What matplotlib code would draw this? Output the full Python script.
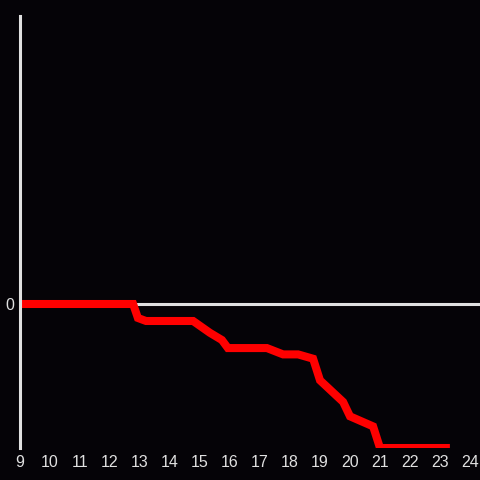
import matplotlib
matplotlib.use('Agg')
import matplotlib.pyplot as plt

# ore del giorno e valore cumulato
ore = [9.0, 12.77, 12.93, 13.2, 14.77, 15.33, 15.73, 15.93, 17.23, 17.77,
       18.27, 18.77, 19.0, 19.77, 20.0, 20.77, 21.0, 23.33]
valori = [0, 0, -9.7, -11.8, -11.8, -20, -25, -30.6, -30.6, -35,
          -35, -38, -53, -68, -78, -85, -100, -100]
tick_ore = list(range(9, 25))

sfondo = '#050307'
grigio = '#e0e0e0'
plt.rcParams['font.family'] = ['Liberation Sans', 'DejaVu Sans']

fig = plt.figure(figsize=(4.8, 4.8), dpi=100, facecolor=sfondo)
ax = fig.add_axes([20/480, 32/480, 460/480, 432/480], facecolor=sfondo)

ax.axhline(0, color=grigio, lw=2.2, zorder=1)
ax.plot(ore, valori, color='#ff0000', lw=5.8, solid_joinstyle='miter',
        solid_capstyle='butt', zorder=2)

ax.set_xlim(9, 9 + 460/30)
ax.set_ylim(-100, 200)
ax.set_xticks(tick_ore)
ax.set_xticklabels([str(t) for t in tick_ore])
ax.set_yticks([0])
ax.set_yticklabels(['0'])
ax.tick_params(colors=grigio, length=0, labelsize=11.5, pad=5)
ax.tick_params(axis='y', pad=4)

for s in ['top', 'right', 'bottom']:
    ax.spines[s].set_visible(False)
ax.spines['left'].set_color(grigio)
ax.spines['left'].set_linewidth(2.2)

fig.savefig('out.png', dpi=100, facecolor=sfondo)
